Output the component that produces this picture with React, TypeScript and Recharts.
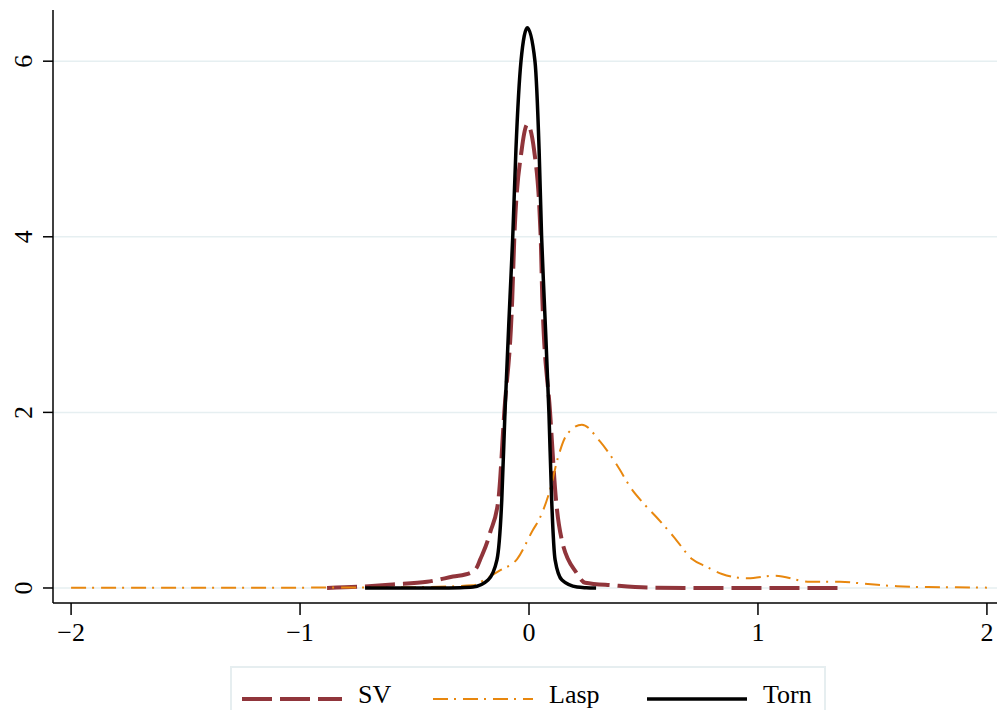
import React from 'react';
import { LineChart, Line, XAxis, YAxis, ReferenceLine } from 'recharts';

// kernel density estimates
const svX = [-0.882, -0.738, -0.594, -0.445, -0.332, -0.258, -0.227, -0.214, -0.179, -0.17, -0.134, -0.108, -0.073, -0.064, -0.032, -0.007, 0.022, 0.051, 0.058, 0.092, 0.118, 0.143, 0.208, 0.245, 0.367, 0.515, 0.747, 1.0, 1.371];
const svY = [0, 0.015, 0.04, 0.07, 0.13, 0.17, 0.24, 0.32, 0.55, 0.63, 1.0, 2.0, 3.31, 4.0, 4.99, 5.28, 4.99, 4.0, 3.31, 2.0, 1.0, 0.55, 0.17, 0.06, 0.03, 0.005, 0, 0, 0];

const laspX = [-2.0, -1.437, -1.0, -0.738, -0.476, -0.245, -0.192, -0.127, -0.052, 0.017, 0.048, 0.092, 0.127, 0.166, 0.231, 0.31, 0.384, 0.45, 0.498, 0.559, 0.633, 0.712, 0.777, 0.843, 0.956, 1.074, 1.227, 1.358, 1.48, 1.607, 1.742, 1.869, 2.0];
const laspY = [0.002, 0.003, 0.004, 0.005, 0.01, 0.03, 0.1, 0.2, 0.33, 0.66, 0.8, 1.12, 1.49, 1.75, 1.86, 1.67, 1.4, 1.12, 0.97, 0.8, 0.58, 0.33, 0.24, 0.16, 0.11, 0.14, 0.07, 0.07, 0.045, 0.02, 0.01, 0.008, 0.004];

const tornX = [-0.716, -0.4, -0.3, -0.245, -0.179, -0.14, -0.119, -0.105, -0.083, -0.071, -0.057, -0.035, -0.007, 0.026, 0.044, 0.055, 0.066, 0.087, 0.099, 0.114, 0.144, 0.21, 0.25, 0.293];
const tornY = [0, 0, 0.003, 0.01, 0.09, 0.32, 1.0, 2.0, 3.31, 4.0, 5.0, 6.0, 6.38, 6.0, 5.0, 4.0, 3.31, 2.0, 1.0, 0.32, 0.09, 0.01, 0.003, 0];

const xTicks = [-2, -1, 0, 1, 2];
const yTicks = [0, 2, 4, 6];

const zip = (xs: number[], ys: number[]) => xs.map((x, i) => ({ x, y: ys[i] }));

const series = [
  { name: 'SV', data: zip(svX, svY), color: '#90353b', width: 4, dash: '30 8' },
  { name: 'Lasp', data: zip(laspX, laspY), color: '#e8870e', width: 2, dash: '15 6 2 7' },
  { name: 'Torn', data: zip(tornX, tornY), color: '#000000', width: 3.5, dash: undefined },
];

const FONT = '"Liberation Serif", "Times New Roman", serif';

const fmt = (v: number) => (v < 0 ? `\u2212${Math.abs(v)}` : `${v}`);

const XTick = ({ x, y, payload }: any) => (
  <text x={x} y={y + 24} textAnchor="middle" fontSize={26} fontFamily={FONT} fill="#000">
    {fmt(payload.value)}
  </text>
);

const YTick = ({ x, y, payload }: any) => (
  <text
    x={x - 9}
    y={y}
    textAnchor="middle"
    fontSize={26}
    fontFamily={FONT}
    fill="#000"
    transform={`rotate(-90, ${x - 9}, ${y})`}
  >
    {payload.value}
  </text>
);

const LegendBox = () => (
  <div
    style={{
      position: 'absolute',
      left: 230,
      top: 666,
      width: 596,
      height: 44,
      border: '2px solid #e6eef0',
      borderBottom: 'none',
      background: '#fff',
      boxSizing: 'border-box',
      fontFamily: FONT,
      fontSize: 26,
    }}
  >
    {series.map((s, i) => {
      const left = [10, 201, 415][i];
      return (
        <div key={s.name} style={{ position: 'absolute', left, top: 8, display: 'flex', alignItems: 'center' }}>
          <svg width={100} height={30}>
            <line x1={0} y1={23} x2={100} y2={23} stroke={s.color} strokeWidth={s.width} strokeDasharray={s.dash} />
          </svg>
          <span style={{ marginLeft: 16, lineHeight: '30px', position: 'relative', top: 4 }}>{s.name}</span>
        </div>
      );
    })}
  </div>
);

export default function App() {
  return (
    <div style={{ position: 'absolute', left: 0, top: 0, width: 997, height: 710, background: '#fff' }}>
      <LineChart
        width={997}
        height={710}
        margin={{ top: 10, right: 0, bottom: 47, left: 0 }}
        accessibilityLayer={false}
      >
        <XAxis
          dataKey="x"
          type="number"
          domain={[-2.079, 2.044]}
          ticks={xTicks}
          height={60}
          tickSize={12}
          tickMargin={2}
          tick={<XTick />}
          axisLine={{ stroke: '#000', strokeWidth: 1.5 }}
          tickLine={{ stroke: '#000', strokeWidth: 1.5 }}
        />
        <YAxis
          type="number"
          domain={[-0.171, 6.583]}
          ticks={yTicks}
          width={53}
          tickSize={10}
          tickMargin={2}
          tick={<YTick />}
          axisLine={{ stroke: '#000', strokeWidth: 1.5 }}
          tickLine={{ stroke: '#000', strokeWidth: 1.5 }}
        />
        {yTicks.map((t) => (
          <ReferenceLine key={t} y={t} stroke="#e6eff1" strokeWidth={1.5} />
        ))}
        {series.map((s) => (
          <Line
            key={s.name}
            data={s.data}
            dataKey="y"
            name={s.name}
            type="monotone"
            stroke={s.color}
            strokeWidth={s.width}
            strokeDasharray={s.dash}
            dot={false}
            activeDot={false}
            isAnimationActive={false}
          />
        ))}
      </LineChart>
      <LegendBox />
    </div>
  );
}
